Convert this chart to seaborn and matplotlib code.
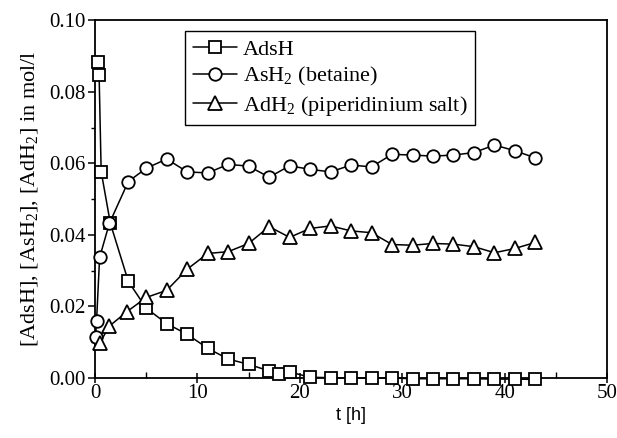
import matplotlib
matplotlib.use("Agg")
import matplotlib.pyplot as plt
import seaborn as sns
import pandas as pd
from matplotlib.ticker import MultipleLocator, FormatStrFormatter

# Reaction time courses (t in hours, concentrations in mol/l)
t_adsh = [0.3, 0.4, 0.6, 1.5, 3.25, 5, 7, 9, 11, 13, 15, 17, 18, 19,
          21, 23, 25, 27, 29, 31, 33, 35, 37, 39, 41, 43]
c_adsh = [0.0884, 0.0846, 0.0577, 0.0432, 0.0270, 0.0195, 0.0152, 0.0122,
          0.0083, 0.0053, 0.0038, 0.0020, 0.0012, 0.0017,
          0.0002, 0.0001, 0.0000, 0.0000, 0.0000, -0.0002, -0.0002,
          -0.0002, -0.0002, -0.0003, -0.0003, -0.0004]

t_ash2 = [0.05, 0.15, 0.45, 1.4, 3.25, 5, 7, 9, 11, 13, 15, 17, 19, 21,
          23, 25, 27, 29, 31, 33, 35, 37, 39, 41, 43]
c_ash2 = [0.0115, 0.0160, 0.0337, 0.0432, 0.0549, 0.0586, 0.0612, 0.0576,
          0.0573, 0.0597, 0.0592, 0.0561, 0.0593, 0.0583, 0.0576, 0.0595,
          0.0590, 0.0625, 0.0623, 0.0620, 0.0623, 0.0630, 0.0651, 0.0635,
          0.0615]

t_adh2 = [0.45, 1.4, 3.1, 5, 7, 9, 11, 13, 15, 17, 19, 21, 23, 25, 27,
          29, 31, 33, 35, 37, 39, 41, 43]
c_adh2 = [0.0097, 0.0145, 0.0185, 0.0225, 0.0245, 0.0304, 0.0348, 0.0353,
          0.0376, 0.0423, 0.0393, 0.0418, 0.0425, 0.0411, 0.0406, 0.0373,
          0.0371, 0.0376, 0.0374, 0.0367, 0.0350, 0.0362, 0.0379]

labels = ["AdsH", "AsH$_2$ (betaine)", "AdH$_2$ (piperidinium salt)"]
x_label = "t [h]"
y_label = "[AdsH], [AsH$_2$], [AdH$_2$] in mol/l"

sns.set_theme(style="ticks")
plt.rcParams["font.family"] = ["Liberation Serif", "DejaVu Serif"]
plt.rcParams["mathtext.fontset"] = "custom"
plt.rcParams["mathtext.rm"] = "Liberation Serif"
plt.rcParams["mathtext.it"] = "Liberation Serif:italic"
plt.rcParams["mathtext.default"] = "regular"
plt.rcParams["text.color"] = "black"
plt.rcParams["axes.labelcolor"] = "black"
plt.rcParams["xtick.color"] = "black"
plt.rcParams["ytick.color"] = "black"

fig = plt.figure(figsize=(6.17, 4.38), dpi=100)
ax = fig.add_axes([0.154, 0.137, 0.830, 0.817])

series = [(t_adsh, c_adsh, "s"), (t_ash2, c_ash2, "o"), (t_adh2, c_adh2, "^")]
for (t, c, m), lab in zip(series, labels):
    df = pd.DataFrame({"t": t, "c": c})
    sns.lineplot(data=df, x="t", y="c", ax=ax, sort=False, color="black",
                 linewidth=1.1, marker=m, markersize=9 if m != "^" else 10,
                 markerfacecolor="white", markeredgecolor="black",
                 markeredgewidth=1.3, label=lab, clip_on=False, zorder=3)

ax.set_xlim(0, 50)
ax.set_ylim(0, 0.10)
ax.xaxis.set_major_locator(MultipleLocator(10))
ax.xaxis.set_minor_locator(MultipleLocator(5))
ax.yaxis.set_major_locator(MultipleLocator(0.02))
ax.yaxis.set_minor_locator(MultipleLocator(0.01))
ax.yaxis.set_major_formatter(FormatStrFormatter("%.2f"))

for s in ax.spines.values():
    s.set_visible(True)
    s.set_color("black")
    s.set_linewidth(1.3)

ax.tick_params(axis="x", which="major", direction="inout", length=7,
               width=1.1, labelsize=15, pad=1)
ax.tick_params(axis="x", which="minor", direction="in", length=4, width=1.0)
ax.tick_params(axis="y", which="major", direction="out", length=5,
               width=1.1, labelsize=15, pad=2)
ax.tick_params(axis="y", which="minor", direction="out", length=3, width=1.0)

ax.set_xlabel(x_label, fontsize=13, family=["Liberation Sans"], labelpad=3)
ax.set_ylabel(y_label, fontsize=16, labelpad=6)

leg = ax.legend(loc="upper left", bbox_to_anchor=(0.176, 0.969),
                fontsize=16, frameon=True, fancybox=False, handlelength=2.0,
                handletextpad=0.25, labelspacing=0.25, borderpad=0.35,
                borderaxespad=0)
leg.get_frame().set_edgecolor("black")
leg.get_frame().set_linewidth(1.0)
leg.get_frame().set_alpha(1)

fig.savefig("out.png", dpi=100)
